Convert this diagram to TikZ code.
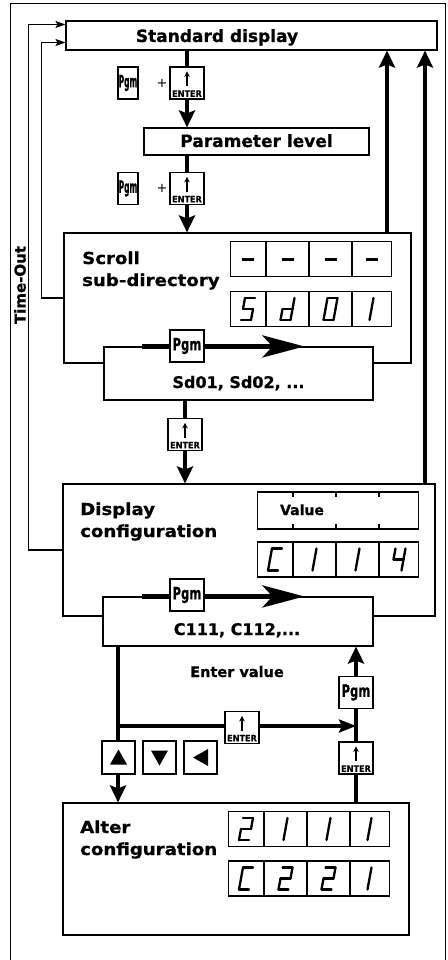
\documentclass[tikz,border=0pt]{standalone}
\usepackage{fontspec}
\setmainfont{DejaVu Sans}[BoldFeatures={FakeBold=0.8}]
\newfontfamily\widefont{DejaVu Sans}[FakeStretch=1.1, BoldFeatures={FakeBold=0.8}]
\usepackage{graphicx}
\usetikzlibrary{arrows.meta}

\tikzset{
  frameln/.style={line width=1pt},
  box/.style={draw, line width=1.1pt, fill=white, inner sep=0pt},
  disp/.style={draw, line width=1.1pt, fill=white, inner sep=0pt},
  thinln/.style={line width=1.1pt},
  thickln/.style={line width=4.8pt},
  headV/.style={-{Stealth[length=17pt,width=16pt,inset=3pt]}},
  headH/.style={-{Stealth[length=42pt,width=22pt,inset=10pt]}},
  headS/.style={-{Stealth[length=10pt,width=7pt,inset=2pt]}},
  headE/.style={-{Stealth[length=17pt,width=13pt,inset=3pt]}},
  keybox/.style={draw, fill=white, line width=1.1pt, inner sep=0pt, minimum height=32pt},
  pgmkey/.style={keybox, minimum width=34pt, font=\bfseries\fontsize{17}{17}\selectfont},
  pgmnarrow/.style={keybox, minimum width=20pt, font=\bfseries\fontsize{17}{17}\selectfont},
  enterbox/.style={keybox, minimum width=34pt},
  entertxt/.style={inner sep=0pt, font=\bfseries\fontsize{9}{9}\selectfont},
  keyarrow/.style={line width=1.5pt, -{Stealth[length=5.5pt,width=5.5pt]}},
  arrowkey/.style={keybox, minimum width=33pt, minimum height=33pt},
  bigtxt/.style={inner sep=0pt, font=\bfseries\fontsize{17}{17}\selectfont},
  boxtxt/.style={inner sep=0pt, font=\widefont\bfseries\fontsize{16.5}{16.5}\selectfont},
  listtxt/.style={inner sep=0pt, font=\bfseries\fontsize{16}{16}\selectfont},
  smalltxt/.style={inner sep=0pt, font=\bfseries\fontsize{14.5}{14.5}\selectfont},
  seg/.style={line width=2.3pt, line cap=round},
}

% seven-segment pieces (local coordinates, y downwards)
\newcommand\sgA{\draw[seg] (-3,-11) -- (7,-11);}
\newcommand\sgB{\draw[seg] (7,-11) -- (5,0);}
\newcommand\sgC{\draw[seg] (5,0) -- (3,11);}
\newcommand\sgD{\draw[seg] (-7,11) -- (3,11);}
\newcommand\sgE{\draw[seg] (-5,0) -- (-7,11);}
\newcommand\sgF{\draw[seg] (-3,-11) -- (-5,0);}
\newcommand\sgG{\draw[seg] (-5,0) -- (5,0);}
\newcommand\sgI{\draw[seg] (2,-11) -- (-2,11);}
\newcommand\sgH{\draw[seg, line width=3pt, line cap=butt] (-6,0) -- (6,0);}
\newcommand\sevseg[3]{%
  \begin{scope}[shift={(#1,#2)}]
    \foreach \s in {#3} {\csname sg\s\endcsname}
  \end{scope}}

% a 4-cell display row: name, left x, centre y
\newcommand\disprow[3]{%
  \node[disp, minimum width=161pt, minimum height=35pt, anchor=west] (#1) at (#2,#3) {};
  \foreach \dx in {36,79,122}
    \draw[thinln] ([xshift=\dx pt]#1.north west) -- ([xshift=\dx pt]#1.south west);
}

% ENTER key: name, x, y
\newcommand\enterkey[3]{%
  \node[enterbox] (#1) at (#2,#3) {};
  \node[entertxt, anchor=base] (#1t) at ([yshift=2.6pt]#1.south) {\scalebox{0.9}[1]{ENTER}};
  \draw[keyarrow] ([yshift=-20pt]#1.north) -- ([yshift=-5pt]#1.north);
}

\begin{document}
\begin{tikzpicture}[x=1pt, y=-1pt]
\useasboundingbox (0,0) rectangle (447,960);

% outer frame
\draw[frameln] (10,975) -- (10,4) -- (445,4) -- (445,975);

% main boxes
\node[box, minimum width=371pt, minimum height=29pt] (std) at (251.5,35.5) {};
\node[box, minimum width=225pt, minimum height=27pt] (param) at (256.5,141.5) {};
\node[box, minimum width=347pt, minimum height=130pt] (scroll) at (237.5,298) {};
\node[box, minimum width=269pt, minimum height=53pt] (sdlist) at (238.5,373.5) {};
\node[box, minimum width=372pt, minimum height=132pt] (disp) at (249,550) {};
\node[box, minimum width=270pt, minimum height=49pt] (clist) at (238,621.5) {};
\node[box, minimum width=346pt, minimum height=132pt] (alter) at (236,869) {};

% labels
\node[bigtxt, anchor=base] (stdl) at (217,42) {Standard display};
\node[bigtxt, anchor=base] (paraml) at (256.5,147) {Parameter level};
\node[boxtxt, anchor=base west] (scrA) at (82,264) {Scroll};
\node[boxtxt, anchor=base west] (scrB) at (82,286) {sub-directory};
\node[listtxt, anchor=base] (sdl) at (238.5,388) {Sd01, Sd02, ...};
\node[boxtxt, anchor=base west] (dispA) at (80,515) {Display};
\node[boxtxt, anchor=base west] (dispB) at (80,537) {configuration};
\node[listtxt, anchor=base] (cl) at (237,635) {C111, C112,...};
\node[smalltxt, anchor=base] (entv) at (237,677) {Enter value};
\node[boxtxt, anchor=base west] (altA) at (80,833) {Alter};
\node[boxtxt, anchor=base west] (altB) at (80,855) {configuration};
\node[smalltxt, font=\bfseries\fontsize{15}{15}\selectfont, rotate=90] (tout) at (20,285) {Time-Out};

% displays of Scroll sub-directory
\disprow{sA}{230}{259}
\disprow{sB}{230}{309}
\sevseg{248}{259}{H}
\sevseg{287.5}{259}{H}
\sevseg{330.5}{259}{H}
\sevseg{371.5}{259}{H}
\sevseg{248}{309}{A,F,G,C,D}
\sevseg{287.5}{309}{B,C,D,E,G}
\sevseg{330.5}{309}{A,B,C,D,E,F}
\sevseg{371.5}{309}{I}

% displays of Display configuration
\node[disp, minimum width=161pt, minimum height=37pt, anchor=west] (val) at (257,510.5) {};
\foreach \dx in {36,79,122}{
  \draw[thinln] ([xshift=\dx pt]val.north west) -- ++(0,6);
  \draw[thinln] ([xshift=\dx pt]val.south west) -- ++(0,-6);
}
\node[smalltxt, font=\bfseries\fontsize{14}{14}\selectfont, anchor=base] (vall) at (302,515) {Value};
\disprow{dB}{257}{559.5}
\sevseg{275}{559.5}{A,F,E,D}
\sevseg{314.5}{559.5}{I}
\sevseg{357.5}{559.5}{I}
\sevseg{398.5}{559.5}{F,G,B,C}

% displays of Alter configuration
\disprow{aA}{228}{829}
\disprow{aB}{228}{878.5}
\sevseg{246}{829}{A,B,G,E,D}
\sevseg{285.5}{829}{I}
\sevseg{328.5}{829}{I}
\sevseg{369.5}{829}{I}
\sevseg{246}{878.5}{A,F,E,D}
\sevseg{285.5}{878.5}{A,B,G,E,D}
\sevseg{328.5}{878.5}{A,B,G,E,D}
\sevseg{369.5}{878.5}{I}

% time-out connectors
\draw[thinln, headS] (scroll.west) -- ++(-22,0) |- ([yshift=-7pt]std.west);
\draw[thinln, headS] (disp.west) -- ++(-34,0) |- ([yshift=11pt]std.west);

% return arrows on the right
\coordinate (ra) at (387,0);
\coordinate (rb) at (425,0);
\draw[thickln, headV] (scroll.north -| ra) -- (std.south -| ra);
\draw[thickln, headV] (disp.north -| rb) -- (std.south -| rb);

% standard display -> parameter level -> scroll
\coordinate (cx) at (187,0);
\draw[thickln, headV] (std.south -| cx) -- (param.north -| cx);
\draw[thickln, headV] (param.south -| cx) -- (scroll.north -| cx);
\node[pgmnarrow] (pgm1) at (128,83) {\scalebox{0.44}[1]{Pgm}};
\node[inner sep=0pt, font=\fontsize{13}{13}\selectfont] (plus1) at (162,83) {+};
\enterkey{ent1}{187}{83}
\node[pgmnarrow] (pgm2) at (128,188.5) {\scalebox{0.44}[1]{Pgm}};
\node[inner sep=0pt, font=\fontsize{13}{13}\selectfont] (plus2) at (162,188.5) {+};
\enterkey{ent2}{187}{188.5}

% scrolling in sub-directory
\draw[thickln, headH] ([xshift=39pt]sdlist.north west) -- ([xshift=201pt]sdlist.north west);
\node[pgmkey] (pgm3) at (187,346) {\scalebox{0.68}[1]{Pgm}};

% sub-directory -> display configuration
\coordinate (cy) at (185,0);
\draw[thickln, headV] (sdlist.south -| cy) -- (disp.north -| cy);
\enterkey{ent3}{185}{434.5}

% scrolling in configuration
\draw[thickln, headH] ([xshift=40pt]clist.north west) -- ([xshift=202pt]clist.north west);
\node[pgmkey] (pgm4) at (187,595) {\scalebox{0.68}[1]{Pgm}};

% enter value / alter configuration
\coordinate (jl) at (118,726);
\coordinate (jr) at (356,726);
\draw[thickln, headV] (clist.south -| jl) -- (alter.north -| jl);
\draw[thickln, headE] (jl) -- (jr);
\draw[thickln, headV] (alter.north -| jr) -- (clist.south -| jr);

\enterkey{ent4}{242}{727.5}
\node[pgmkey] (pgm5) at (356,692.5) {\scalebox{0.68}[1]{Pgm}};
\enterkey{ent5}{356}{758}

\node[arrowkey, path picture={\fill[black] ([shift={(-8.5pt,-7pt)}]path picture bounding box.center) -- ++(17pt,0pt) -- ++(-8.5pt,15pt) -- cycle;}] (upk) at (118.5,757.5) {};
\node[arrowkey, path picture={\fill[black] ([shift={(-8.5pt,7pt)}]path picture bounding box.center) -- ++(17pt,0pt) -- ++(-8.5pt,-15pt) -- cycle;}] (dnk) at (159.5,757.5) {};
\node[arrowkey, path picture={\fill[black] ([shift={(7.5pt,8.5pt)}]path picture bounding box.center) -- ++(0pt,-17pt) -- ++(-15pt,8.5pt) -- cycle;}] (ltk) at (200.5,757.5) {};

\end{tikzpicture}
\end{document}
